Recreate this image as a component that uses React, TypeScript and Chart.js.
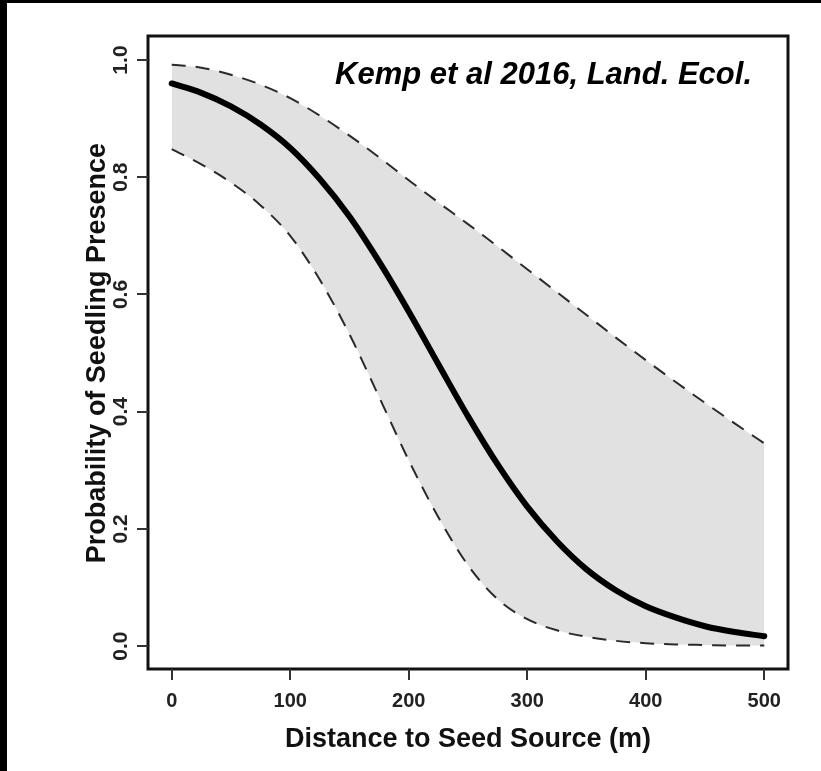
import React, { useEffect, useRef } from "react";
import { Chart, registerables } from "chart.js";

Chart.register(...registerables);

const distance = [0, 25, 50, 75, 100, 125, 150, 175, 200, 225, 250, 275, 300, 325, 350, 375, 400, 425, 450, 475, 500];
const meanProb = [0.960, 0.944, 0.921, 0.890, 0.850, 0.797, 0.733, 0.656, 0.571, 0.481, 0.392, 0.310, 0.238, 0.179, 0.131, 0.095, 0.068, 0.049, 0.034, 0.024, 0.017];
const upperCI = [0.992, 0.987, 0.975, 0.958, 0.935, 0.905, 0.871, 0.834, 0.795, 0.757, 0.720, 0.682, 0.643, 0.604, 0.565, 0.526, 0.488, 0.451, 0.415, 0.380, 0.346];
const lowerCI = [0.848, 0.822, 0.791, 0.752, 0.700, 0.625, 0.532, 0.425, 0.317, 0.220, 0.138, 0.080, 0.046, 0.027, 0.016, 0.009, 0.005, 0.003, 0.002, 0.001, 0.001];

const xTicks = [0, 100, 200, 300, 400, 500];
const xTickLabels = ["0", "100", "200", "300", "400", "500"];
const yTicks = [0, 0.2, 0.4, 0.6, 0.8, 1.0];
const yTickLabels = ["0.0", "0.2", "0.4", "0.6", "0.8", "1.0"];

const xTitle = "Distance to Seed Source (m)";
const yTitle = "Probability of Seedling Presence";
const citation = "Kemp et al 2016, Land. Ecol.";

const W = 821;
const H = 771;
const FONT = "'Liberation Sans', Arial, sans-serif";

const decorPlugin = {
  id: "rDecor",
  beforeDraw(chart: any) {
    const ctx = chart.ctx;
    ctx.save();
    ctx.fillStyle = "#ffffff";
    ctx.fillRect(0, 0, W, H);
    ctx.restore();
  },
  afterDraw(chart: any) {
    const ctx = chart.ctx;
    const area = chart.chartArea;
    const xs = chart.scales.x;
    const ys = chart.scales.y;
    ctx.save();

    // frame bars of the picture
    ctx.fillStyle = "#000000";
    ctx.fillRect(0, 0, W, 3);
    ctx.fillRect(0, 0, 7, H);

    // plot box
    ctx.strokeStyle = "#111111";
    ctx.lineWidth = 3;
    ctx.strokeRect(area.left, area.top, area.right - area.left, area.bottom - area.top);

    // ticks
    ctx.lineWidth = 2;
    ctx.strokeStyle = "#333333";
    xTicks.forEach((v) => {
      const px = Math.round(xs.getPixelForValue(v));
      ctx.beginPath();
      ctx.moveTo(px, area.bottom);
      ctx.lineTo(px, area.bottom + 11);
      ctx.stroke();
    });
    yTicks.forEach((v) => {
      const py = Math.round(ys.getPixelForValue(v));
      ctx.beginPath();
      ctx.moveTo(area.left, py);
      ctx.lineTo(area.left - 11, py);
      ctx.stroke();
    });

    // x tick labels
    ctx.fillStyle = "#222222";
    ctx.font = `bold 20px ${FONT}`;
    ctx.textAlign = "center";
    ctx.textBaseline = "alphabetic";
    xTicks.forEach((v, i) => {
      ctx.fillText(xTickLabels[i], xs.getPixelForValue(v), 707);
    });

    // y tick labels (rotated, parallel to axis)
    ctx.font = `bold 21px ${FONT}`;
    yTicks.forEach((v, i) => {
      ctx.save();
      ctx.translate(127, ys.getPixelForValue(v));
      ctx.rotate(-Math.PI / 2);
      ctx.textAlign = "center";
      ctx.fillText(yTickLabels[i], 0, 0);
      ctx.restore();
    });

    // axis titles
    ctx.fillStyle = "#111111";
    ctx.font = `bold 27px ${FONT}`;
    ctx.textAlign = "center";
    const xMid = (xs.getPixelForValue(0) + xs.getPixelForValue(500)) / 2;
    ctx.fillText(xTitle, xMid, 747);

    ctx.save();
    const yMid = (ys.getPixelForValue(0) + ys.getPixelForValue(1)) / 2;
    ctx.translate(105, yMid);
    ctx.rotate(-Math.PI / 2);
    ctx.fillText(yTitle, 0, 0);
    ctx.restore();

    // citation
    ctx.fillStyle = "#000000";
    ctx.font = `italic bold 31px ${FONT}`;
    ctx.textAlign = "right";
    ctx.fillText(citation, 752, 84);

    ctx.restore();
  },
};

export default function App() {
  const canvasRef = useRef<HTMLCanvasElement | null>(null);

  useEffect(() => {
    const canvas = canvasRef.current;
    if (!canvas) return;
    const pts = (ys: number[]) => distance.map((d, i) => ({ x: d, y: ys[i] }));
    const chart = new Chart(canvas, {
      type: "line",
      data: {
        datasets: [
          {
            label: "Upper CI",
            data: pts(upperCI),
            borderColor: "#2a2a2a",
            borderWidth: 2,
            borderDash: [14, 10],
            backgroundColor: "#e1e1e1",
            fill: { target: 1 },
            pointRadius: 0,
            cubicInterpolationMode: "monotone",
            order: 3,
          },
          {
            label: "Lower CI",
            data: pts(lowerCI),
            borderColor: "#2a2a2a",
            borderWidth: 2,
            borderDash: [14, 10],
            fill: false,
            pointRadius: 0,
            cubicInterpolationMode: "monotone",
            order: 2,
          },
          {
            label: "Mean",
            data: pts(meanProb),
            borderColor: "#000000",
            borderWidth: 6,
            fill: false,
            pointRadius: 0,
            borderCapStyle: "round",
            cubicInterpolationMode: "monotone",
            order: 1,
          },
        ],
      },
      options: {
        animation: false,
        responsive: false,
        devicePixelRatio: 1,
        layout: { padding: { left: 0, top: 36, right: W - 788, bottom: 0 } },
        plugins: {
          legend: { display: false },
          tooltip: { enabled: false },
          title: { display: false },
          filler: { drawTime: "beforeDatasetsDraw" },
        },
        scales: {
          x: {
            type: "linear",
            min: -20,
            max: 520,
            grid: { display: false },
            border: { display: false },
            ticks: { display: false },
            afterFit: (s: any) => {
              s.height = H - 669;
            },
          },
          y: {
            type: "linear",
            min: -0.039,
            max: 1.041,
            grid: { display: false },
            border: { display: false },
            ticks: { display: false },
            afterFit: (s: any) => {
              s.width = 148;
            },
          },
        },
      },
      plugins: [decorPlugin],
    });
    return () => chart.destroy();
  }, []);

  return (
    <div style={{ position: "fixed", left: 0, top: 0, width: W, height: H, background: "#ffffff" }}>
      <canvas ref={canvasRef} width={W} height={H} style={{ display: "block", width: W, height: H }} />
    </div>
  );
}
